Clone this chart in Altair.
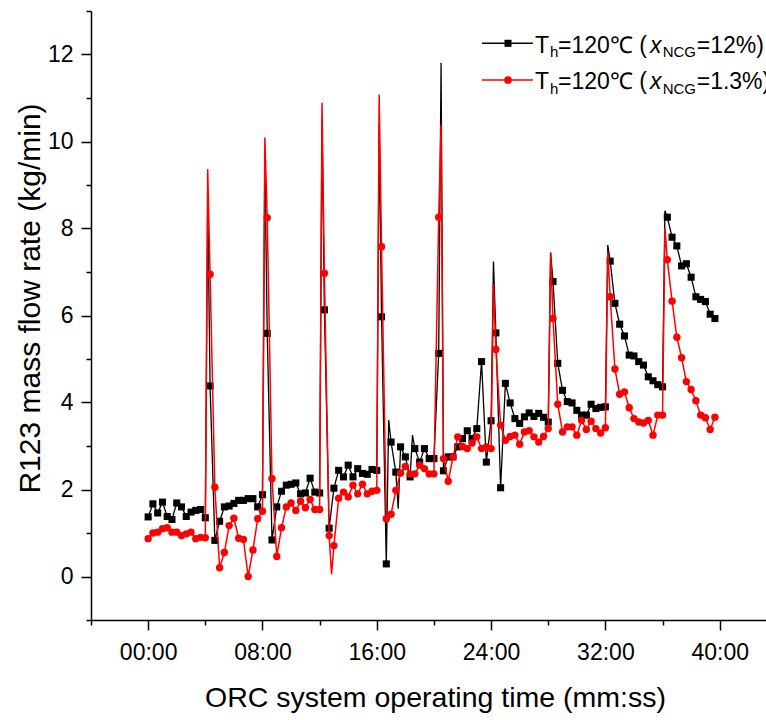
import altair as alt
import pandas as pd

# sampling instants (seconds) of the plotted points (markers)
time_s = [0, 20, 40, 60, 80, 100, 120, 140, 160, 180, 200, 220, 240, 260, 280, 300, 320, 340, 360, 380,
          400, 420, 440, 460, 480, 500, 520, 540, 560, 580, 600, 620, 640, 660, 680, 700, 720, 740, 760, 780,
          800, 820, 840, 860, 880, 900, 920, 940, 960, 980, 1000, 1020, 1040, 1060, 1080, 1100, 1120, 1140, 1160, 1180,
          1200, 1220, 1240, 1260, 1280, 1300, 1320, 1340, 1360, 1380, 1400, 1420, 1440, 1460, 1480, 1500, 1520, 1540, 1560, 1580,
          1600, 1620, 1640, 1660, 1680, 1700, 1720, 1740, 1760, 1780, 1800, 1820, 1840, 1860, 1880, 1900, 1920, 1940, 1960, 1980,
          2000, 2020, 2040, 2060, 2080, 2100, 2120, 2140, 2160, 2180, 2200, 2220, 2240, 2260, 2280, 2300, 2320, 2340, 2360, 2380]

# x_NCG = 12 % (black squares)
black_flow = [1.37, 1.67, 1.46, 1.71, 1.38, 1.31, 1.69, 1.60, 1.38, 1.48, 1.52, 1.54, 1.35,
              4.38, 0.83, 1.27, 1.60, 1.62, 1.68, 1.75, 1.75, 1.79, 1.79, 1.60, 1.88,
              5.59, 0.84, 1.60, 1.96, 2.10, 2.12, 2.15, 1.90, 1.92, 2.26, 1.94, 1.92,
              6.13, 1.11, 2.03, 2.44, 2.29, 2.56, 2.29, 2.48, 2.37, 2.35, 2.46, 2.44,
              5.97, 0.29, 3.09, 2.40, 2.98, 2.75, 2.29, 2.94, 2.63, 2.94, 2.71, 2.71,
              5.13, 2.43, 2.75, 2.75, 2.98, 3.17, 3.35, 3.17, 3.40, 4.94, 2.63, 3.58,
              5.60, 2.04, 4.44, 3.99, 3.63, 3.52, 3.67, 3.76, 3.68, 3.75, 3.66, 3.55,
              6.78, 4.90, 4.28, 4.02, 3.99, 3.82, 3.71, 3.71, 3.96, 3.86, 3.89, 3.90,
              7.25, 6.28, 5.80, 5.53, 5.09, 5.07, 4.94, 4.86, 4.59, 4.50, 4.41, 4.36,
              8.26, 7.80, 7.60, 7.14, 7.19, 6.88, 6.43, 6.37, 6.32, 6.03, 5.93]

# x_NCG = 1.3 % (red circles)
red_flow = [0.87, 1.00, 1.02, 1.10, 1.12, 1.02, 1.02, 0.94, 0.98, 1.02, 0.87, 0.90, 0.89,
            6.95, 2.05, 0.20, 0.55, 1.17, 1.34, 0.88, 0.85, 0.00, 0.61, 1.33, 1.50,
            8.25, 2.25, 0.46, 1.12, 1.60, 1.69, 1.52, 1.73, 1.58, 1.77, 1.54, 1.54,
            6.97, 0.94, 0.71, 1.80, 1.94, 1.83, 2.10, 1.90, 2.12, 1.90, 1.96, 1.98,
            7.58, 1.33, 1.43, 1.98, 2.38, 2.53, 2.36, 2.36, 2.56, 2.48, 2.36, 2.36,
            8.26, 2.71, 2.19, 2.75, 3.21, 2.99, 2.94, 3.07, 3.21, 2.94, 2.98, 2.94,
            5.22, 3.48, 3.13, 3.22, 3.25, 3.04, 3.32, 3.35, 3.21, 3.09, 3.22, 3.40,
            5.93, 3.96, 3.32, 3.44, 3.44, 3.25, 3.59, 3.38, 3.57, 3.40, 3.30, 3.42,
            6.43, 4.77, 4.19, 4.24, 3.88, 3.63, 3.55, 3.53, 3.59, 3.25, 3.71, 3.71,
            7.28, 6.33, 5.50, 5.03, 4.48, 4.30, 4.04, 3.71, 3.65, 3.38, 3.66]

# intermediate line points drawn without a marker (spike tops, dips)
black_peak_time_s = [250, 490, 730, 970, 1010, 1050, 1110, 1230, 1450, 1690, 1930, 2170]
black_peak_flow = [8.70, 9.60, 10.50, 10.40, 3.60, 1.56, 3.25, 11.81, 7.24, 7.45, 7.62, 8.41]
red_peak_time_s = [250, 490, 730, 770, 970, 1230, 1450, 1690, 1930, 2170]
red_peak_flow = [9.37, 10.09, 10.89, 0.05, 11.08, 10.39, 6.72, 7.43, 7.47, 8.01]

major_x = [0, 8, 16, 24, 32, 40]
minor_x = [-4, 4, 12, 20, 28, 36]
major_y = [0, 2, 4, 6, 8, 10, 12]
minor_y = [-1, 1, 3, 5, 7, 9, 11, 13]


def series(times, vals, ptimes, pvals):
    df = pd.DataFrame({
        "t": list(times) + list(ptimes),
        "v": list(vals) + list(pvals),
        "marker": [True] * len(times) + [False] * len(ptimes),
    })
    df["minutes"] = df["t"] / 60.0
    return df.sort_values("t").reset_index(drop=True)


black_df = series(time_s, black_flow, black_peak_time_s, black_peak_flow)
red_df = series(time_s, red_flow, red_peak_time_s, red_peak_flow)

FONT = "Liberation Sans"
xscale = alt.Scale(domain=[-4, 43.24], nice=False, zero=False)
yscale = alt.Scale(domain=[-1, 13], nice=False, zero=False)

common_axis = dict(grid=False, domainColor="black", tickColor="black", labelColor="black",
                   titleColor="black", domainWidth=1.5, tickWidth=1.5, labelFont=FONT, titleFont=FONT)

x_major = alt.Axis(values=major_x, tickSize=10, labelPadding=11, labelFontSize=23,
                   labelExpr="(datum.value < 10 ? '0' : '') + datum.value + ':00'",
                   title="ORC system operating time (mm:ss)", titleFontSize=28.5,
                   titleFontWeight="normal", titlePadding=19, titleX=344,
                   labelFlush=False, orient="bottom", **common_axis)
y_major = alt.Axis(values=major_y, tickSize=10, labelPadding=8, labelFontSize=23,
                   title="R123 mass flow rate (kg/min)", titleFontSize=30,
                   titleFontWeight="normal", titlePadding=2, titleY=287,
                   orient="left", **common_axis)
x_minor = alt.Axis(values=minor_x, tickSize=5, labels=False, domain=False, title=None,
                   orient="bottom", grid=False, tickColor="black", tickWidth=1.5)
y_minor = alt.Axis(values=minor_y, tickSize=5, labels=False, domain=False, title=None,
                   orient="left", grid=False, tickColor="black", tickWidth=1.5)

black_line = alt.Chart(black_df).mark_line(color="black", strokeWidth=1.3).encode(
    x=alt.X("minutes:Q", scale=xscale, axis=x_major),
    y=alt.Y("v:Q", scale=yscale, axis=y_major),
    order="t:Q",
)
black_pts = alt.Chart(black_df).transform_filter("datum.marker").mark_point(
    shape="square", filled=True, size=50, color="black", opacity=1).encode(
    x=alt.X("minutes:Q", scale=xscale, axis=None),
    y=alt.Y("v:Q", scale=yscale, axis=None),
)
red_line = alt.Chart(red_df).mark_line(color="#ff0000", strokeWidth=1.5).encode(
    x=alt.X("minutes:Q", scale=xscale, axis=x_minor),
    y=alt.Y("v:Q", scale=yscale, axis=y_minor),
    order="t:Q",
)
red_pts = alt.Chart(red_df).transform_filter("datum.marker").mark_point(
    shape="circle", filled=True, size=55, color="#ff0000", opacity=1).encode(
    x=alt.X("minutes:Q", scale=xscale, axis=None),
    y=alt.Y("v:Q", scale=yscale, axis=None),
)

# ---- custom legend (subscripts need separate text pieces) ----
one = pd.DataFrame({"k": [0]})


def txt(s, x, y, size=23, style="normal"):
    return alt.Chart(one).mark_text(text=s, font=FONT, fontSize=size, fontStyle=style,
                                    align="left", baseline="alphabetic", color="black").encode(
        x=alt.value(x), y=alt.value(y))


legend_layers = []
for row, (col, shape, label) in enumerate([("black", "square", "=12%)"), ("#ff0000", "circle", "=1.3%)")]):
    ly = 32.3 + row * 36.7
    ty = 41.7 + row * 36.6
    sy = 46.3 + row * 36.6
    legend_layers.append(alt.Chart(one).mark_rule(color=col, strokeWidth=1.5).encode(
        x=alt.value(391), x2=alt.value(442), y=alt.value(ly)))
    legend_layers.append(alt.Chart(one).mark_point(shape=shape, filled=True, size=50 if shape == "square" else 60,
                                                   color=col, opacity=1).encode(
        x=alt.value(417), y=alt.value(ly)))
    legend_layers += [
        txt("T", 444, ty),
        txt("h", 459, sy, size=15),
        txt("=120\u2103 (", 467, ty),
        txt("x", 559, ty, style="italic"),
        txt("NCG", 571.7, sy, size=15),
        txt(label, 605.7, ty),
    ]

chart = alt.layer(black_line, black_pts, red_line, red_pts, *legend_layers).resolve_axis(
    x="independent", y="independent"
).properties(
    width=675, height=609,
    padding={"left": 91, "top": 11, "right": 0, "bottom": 100},
    autosize=alt.AutoSizeParams(type="none"),
).configure_view(stroke=None).configure_axis(grid=False)

chart.save("out.html", embed_options={"renderer": "svg", "actions": False})
